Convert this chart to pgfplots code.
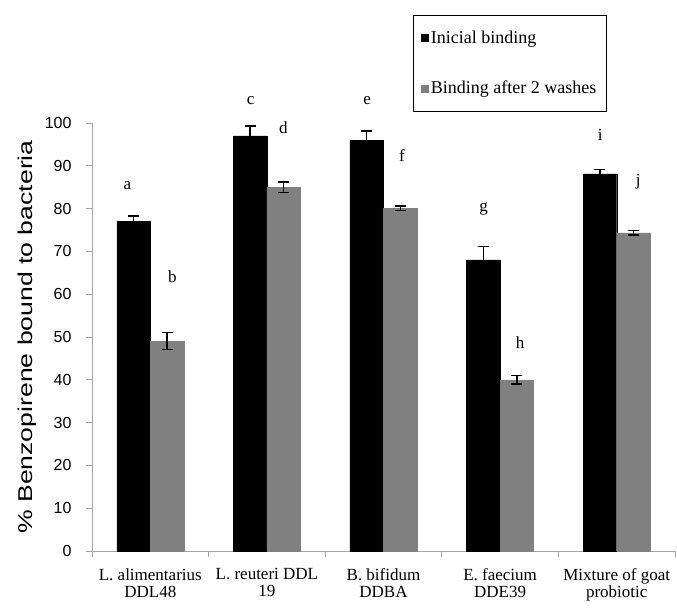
\documentclass[border=0pt]{standalone}
\usepackage{pgfplots}
\pgfplotsset{compat=1.18}
\usepackage{graphicx}
\usepackage{fontspec}
\setmainfont{Liberation Serif}
\newfontfamily\sansf{Liberation Sans}
\definecolor{barg}{HTML}{808080}
\definecolor{axg}{HTML}{A6A6A6}
\begin{document}
\begin{tikzpicture}
\useasboundingbox (-92pt,-58pt) rectangle (585pt,551pt);
\begin{axis}[
  at={(0pt,0pt)}, anchor=south west,
  scale only axis, width=583pt, height=428pt,
  xmin=-0.5, xmax=4.5, ymin=0, ymax=100,
  clip=false,
  axis x line*=bottom, axis y line*=left,
  axis line style={axg, line width=0.8pt},
  every tick/.style={axg, line width=0.8pt},
  tick align=outside,
  major tick length=6pt,
  ytick={0,10,...,100},
  xtick={0,1,2,3,4},
  major x tick style={draw=none},
  minor xtick={-0.5,0.5,1.5,2.5,3.5,4.5},
  minor tick length=6pt,
  xticklabels={L. alimentarius\\DDL48, L. reuteri DDL\\19, B. bifidum\\DDBA, E. faecium\\DDE39, Mixture of goat\\probiotic},
  x tick label style={font=\fontsize{17}{17}\selectfont, align=center, yshift=-8pt},
  /pgf/number format/assume math mode=true,
  y tick label style={font=\sansf\fontsize{16}{16}\selectfont, xshift=-11pt},
  ylabel={\scalebox{1.33}[1]{\sansf\fontsize{20}{20}\selectfont \% Benzopirene bound to bacteria}},
  ylabel style={at={(axis description cs:-0.1115,0.5)}, anchor=center},
  legend style={at={(0.5506,1.2523)}, anchor=north west, draw=black, line width=0.6pt,
    inner xsep=8pt, inner ysep=14pt, row sep=32pt, font=\fontsize{18}{18}\selectfont},
  legend cell align=left,
  legend image code/.code={\fill[#1] (0pt,-3.5pt) rectangle (7pt,3.5pt);},
]
\addplot[ybar, bar width=33.5pt, bar shift=-16.75pt, fill=black, draw=black]
  coordinates {(0,77.1) (1,97.0) (2,96.0) (3,68.0) (4,88.1)};
\addlegendentry{Inicial binding}
\addplot[ybar, bar width=33.5pt, bar shift=16.75pt, fill=barg, draw=barg]
  coordinates {(0,49.0) (1,85.0) (2,80.1) (3,40.0) (4,74.3)};
\addlegendentry{Binding after 2 washes}
% error bars (at bar centres)
\addplot[draw=none, mark=none, forget plot,
  error bars/.cd, y dir=both, y explicit,
  error bar style={black, line width=1.3pt},
  error mark options={rotate=90, black, mark size=5.5pt, line width=1.3pt}]
  coordinates {(-0.1437,77.1) +- (0,1.2) (0.8563,97.0) +- (0,2.3) (1.8563,96.0) +- (0,2.1) (2.8563,68.0) +- (0,3.1) (3.8563,88.1) +- (0,1.0)};
\addplot[draw=none, mark=none, forget plot,
  error bars/.cd, y dir=both, y explicit,
  error bar style={black, line width=1.3pt},
  error mark options={rotate=90, black, mark size=5.5pt, line width=1.3pt}]
  coordinates {(0.1437,49.0) +- (0,2.0) (1.1437,85.0) +- (0,1.2) (2.1437,80.1) +- (0,0.5) (3.1437,40.0) +- (0,1.0) (4.1437,74.3) +- (0,0.5)};
\addplot[draw=none, mark=none, forget plot, nodes near coords, point meta=explicit symbolic,
  every node near coord/.style={anchor=center, black, font=\fontsize{17}{17}\selectfont}]
  table[meta=l] {
x y l
-0.197 85.3 a
0.189 64.0 b
0.86 105.2 c
1.142 98.8 d
1.86 105.2 e
2.159 92.3 f
2.858 80.0 g
3.172 48.8 h
3.858 97.2 i
4.184 86.2 j
};
\end{axis}
\end{tikzpicture}
\end{document}
